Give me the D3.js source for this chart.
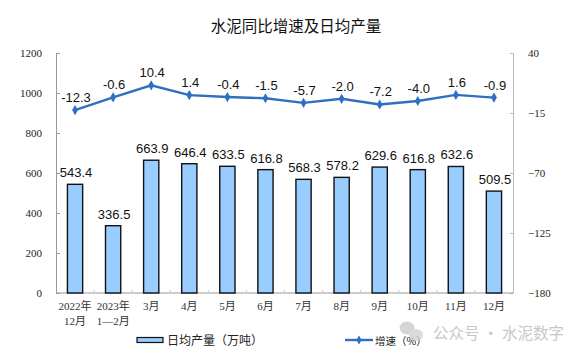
<!DOCTYPE html>
<html><head><meta charset="utf-8">
<script src="https://cdn.jsdelivr.net/npm/d3@7"></script>
<style>
html,body{margin:0;padding:0;background:#fff;}
svg{display:block;}
</style></head>
<body>
<svg id="c" width="576" height="357"></svg>
<script>
const categories = [["2022年","12月"],["2023年","1\u20142月"],["3月"],["4月"],["5月"],["6月"],["7月"],["8月"],["9月"],["10月"],["11月"],["12月"]];
const output = [543.4,336.5,663.9,646.4,633.5,616.8,568.3,578.2,629.6,616.8,632.6,509.5];
const growth = [-12.3,-0.6,10.4,1.4,-0.4,-1.5,-5.7,-2.0,-7.2,-4.0,1.6,-0.9];
const leftTicks = [0,200,400,600,800,1000,1200];
const rightTicks = [-180,-125,-70,-15,40];
const title = "水泥同比增速及日均产量";
const legendBar = "日均产量（万吨）";
const legendLine = "增速（%）";
const watermark = "公众号 · 水泥数字";

const svg = d3.select("#c");
const L = 56, R = 513, T = 53, B = 293;
const serif = "'Liberation Serif','Times New Roman','Noto Sans CJK SC',serif";
const cjk = "'Noto Sans CJK SC','DejaVu Sans',sans-serif";
const sans = "'Liberation Sans',Arial,sans-serif";
const lineColor = "#2F6FC2";

const x = d3.scaleBand().domain(d3.range(categories.length)).range([L, R]).paddingInner(0.6).paddingOuter(0.3);
const xStep = d3.scaleBand().domain(d3.range(categories.length)).range([L, R]);
const yL = d3.scaleLinear().domain([0,1200]).range([B,T]);
const yR = d3.scaleLinear().domain([-180,40]).range([B,T]);

// title
svg.append("text").attr("x",296).attr("y",32).attr("text-anchor","middle")
  .style("font-family",cjk).style("font-size","15.5px").attr("fill","#111").text(title);

// left axis
const ax = svg.append("g").attr("transform",`translate(${L},0)`)
  .call(d3.axisLeft(yL).tickValues(leftTicks).tickFormat(d3.format("d")).tickSizeInner(-4).tickSizeOuter(0).tickPadding(14));
ax.select(".domain").attr("stroke","#999");
ax.selectAll(".tick line").attr("stroke","#999");
ax.selectAll("text").style("font-family",serif).style("font-size","11px").attr("fill","#222");

// right axis
const ar = svg.append("g").attr("transform",`translate(${R},0)`)
  .call(d3.axisRight(yR).tickValues(rightTicks).tickFormat(d3.format("d")).tickSizeInner(-3).tickSizeOuter(0).tickPadding(15));
ar.select(".domain").attr("stroke","#bbb");
ar.selectAll(".tick line").attr("stroke","#bbb");
ar.selectAll("text").style("font-family",serif).style("font-size","11px").attr("fill","#222");

// bottom axis
svg.append("line").attr("x1",L).attr("x2",R).attr("y1",B).attr("y2",B).attr("stroke","#999");
svg.append("g").selectAll("line").data(d3.range(1,categories.length)).join("line")
  .attr("x1",d=>xStep(d)).attr("x2",d=>xStep(d)).attr("y1",B).attr("y2",B-3).attr("stroke","#ccc");

// x labels
const xl = svg.append("g").selectAll("text").data(categories).join("text")
  .attr("text-anchor","middle")
  .style("font-family",serif).style("font-size","11px").attr("fill","#333");
xl.each(function(d,i){
  const t = d3.select(this);
  d.forEach((s,j)=>{
    t.append("tspan").attr("x", xStep(i)+xStep.bandwidth()/2).attr("y", 310 + j*15).text(s);
  });
});

// bars
svg.append("g").selectAll("rect").data(output).join("rect")
  .attr("x",(d,i)=>x(i)).attr("width",x.bandwidth())
  .attr("y",d=>yL(d)).attr("height",d=>B-yL(d))
  .attr("fill","#99CCFF").attr("stroke","#111").attr("stroke-width",1.4);

svg.append("g").selectAll("text").data(output).join("text")
  .attr("x",(d,i)=>x(i)+x.bandwidth()/2+1).attr("y",d=>yL(d)-7)
  .attr("text-anchor","middle").style("font-family",sans).style("font-size","13px").attr("fill","#111")
  .text(d=>d.toFixed(1));

// line
const cx = i => xStep(i)+xStep.bandwidth()/2;
svg.append("path").datum(growth)
  .attr("d", d3.line().x((d,i)=>cx(i)).y(d=>yR(d)))
  .attr("fill","none").attr("stroke",lineColor).attr("stroke-width",2.4);
svg.append("g").selectAll("path").data(growth).join("path")
  .attr("transform",(d,i)=>`translate(${cx(i)},${yR(d)})`)
  .attr("d", d3.symbol().type(d3.symbolDiamond).size(30))
  .attr("fill",lineColor);
svg.append("g").selectAll("text").data(growth).join("text")
  .attr("x",(d,i)=>cx(i)+1).attr("y",d=>yR(d)-8)
  .attr("text-anchor","middle").style("font-family",sans).style("font-size","13px").attr("fill","#111")
  .text(d=>d.toFixed(1));

// legend
svg.append("rect").attr("x",137).attr("y",337.5).attr("width",26).attr("height",5)
  .attr("fill","#99CCFF").attr("stroke","#111").attr("stroke-width",1.2);
svg.append("text").attr("x",167).attr("y",344.5).style("font-family",cjk).style("font-size","12px")
  .attr("fill","#222").text(legendBar);
svg.append("line").attr("x1",345).attr("x2",373).attr("y1",340).attr("y2",340)
  .attr("stroke",lineColor).attr("stroke-width",2.4);
svg.append("path").attr("transform","translate(359,340)").attr("d",d3.symbol().type(d3.symbolDiamond).size(24)).attr("fill",lineColor);
svg.append("text").attr("x",375).attr("y",344.5).style("font-family",cjk).style("font-size","10.5px")
  .attr("fill","#222").text(legendLine);

// watermark
const wm = svg.append("g").attr("opacity",0.75);
wm.append("ellipse").attr("cx",407).attr("cy",328).attr("rx",7.5).attr("ry",6.5).attr("fill","#c8c8c8");
wm.append("ellipse").attr("cx",416).attr("cy",335).attr("rx",7).attr("ry",6).attr("fill","#d0d0d0");
wm.append("text").attr("x",433).attr("y",339).style("font-family",cjk).style("font-size","15.5px")
  .attr("fill","#b5b5b5").text(watermark);
</script>
</body></html>
